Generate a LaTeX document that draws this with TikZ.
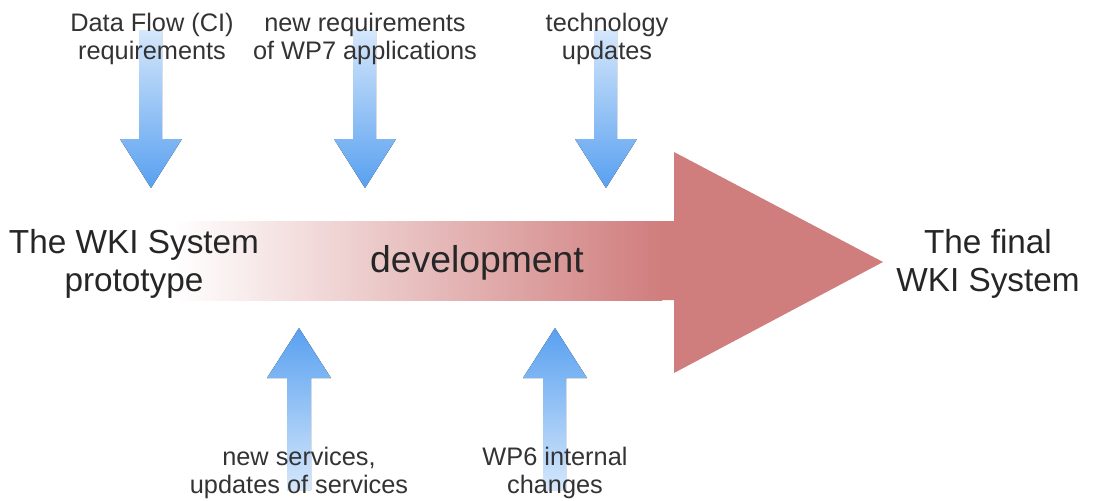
\documentclass[tikz,border=0pt]{standalone}
\usepackage{fontspec}
\setmainfont{Liberation Sans}
\definecolor{bluedark}{HTML}{58A0F0}
\definecolor{bluelight}{HTML}{D5E7FB}
\definecolor{arrred}{HTML}{D07D7D}
\begin{document}
\begin{tikzpicture}[x=0.75pt,y=-0.75pt,
  small/.style={align=center,font=\fontsize{19}{21}\selectfont,text=black!80,inner sep=0pt},
  big/.style={align=center,font=\fontsize{25}{29}\selectfont,text=black!85,inner sep=0pt},
  downarrow/.style={top color=bluelight,bottom color=bluedark},
  uparrow/.style={top color=bluedark,bottom color=bluelight}]
\useasboundingbox (0,0) rectangle (1094,500);
% big development arrow
\fill[left color=white,right color=arrred,shading angle=90] (174,221) rectangle (662,300);
\fill[arrred] (661,221) -- (674,221) -- (674,152) -- (883,262) -- (674,373) -- (674,300) -- (661,300) -- cycle;
% down arrows
\fill[downarrow] (139,30) -- (162,30) -- (162,139) -- (182,139) -- (151,188) -- (120,139) -- (139,139) -- cycle;
\fill[downarrow] (353,30) -- (376,30) -- (376,139) -- (396,139) -- (365,188) -- (334,139) -- (353,139) -- cycle;
\fill[downarrow] (594,30) -- (617,30) -- (617,139) -- (637,139) -- (606,188) -- (575,139) -- (594,139) -- cycle;
% up arrows
\fill[uparrow] (287,490) -- (311,490) -- (311,378) -- (331,378) -- (299,328) -- (267,378) -- (287,378) -- cycle;
\fill[uparrow] (543,490) -- (566,490) -- (566,378) -- (587,378) -- (555,328) -- (523,378) -- (543,378) -- cycle;
% labels
\node[small] (dataflow) at (152,39) {Data Flow (CI)\\requirements};
\node[small] (newreq) at (365,39) {new requirements\\of WP7 applications};
\node[small] (tech) at (607,39) {technology\\updates};
\node[small] (newserv) at (299,473) {new services,\\updates of services};
\node[small] (wp6) at (555,473) {WP6 internal\\changes};
\node[big] (proto) at (134,264) {The WKI System\\prototype};
\node[big,font=\fontsize{28}{32}\selectfont] (dev) at (477,263) {development};
\node[big] (final) at (988,264) {The final\\WKI System};
\end{tikzpicture}
\end{document}
